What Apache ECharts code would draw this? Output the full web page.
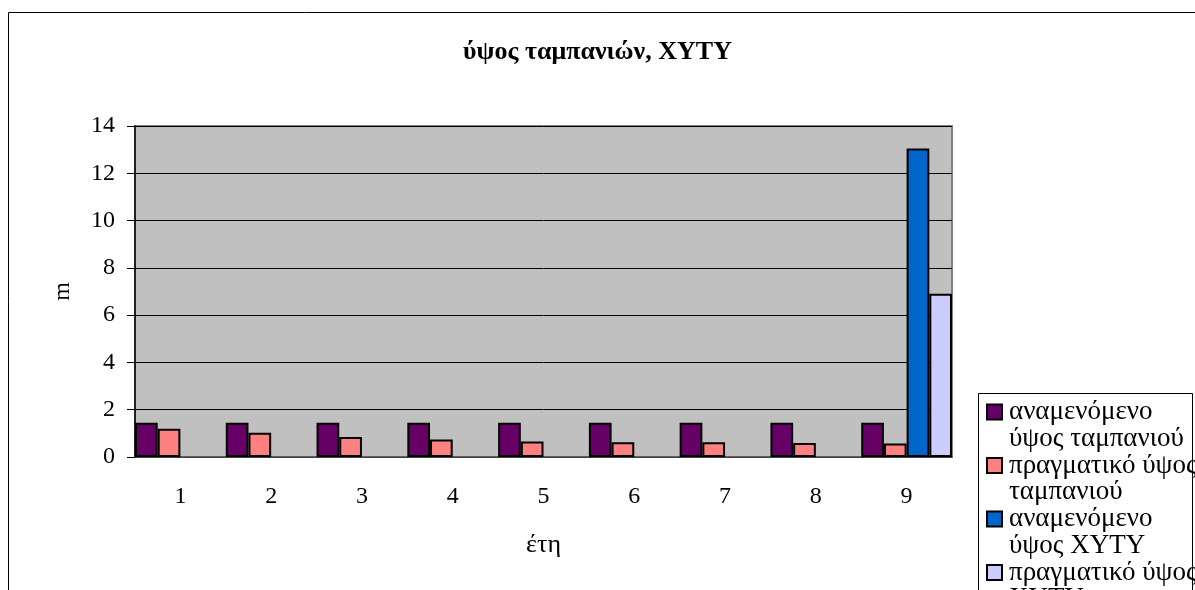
<!DOCTYPE html>
<html>
<head>
<meta charset="utf-8">
<script src="https://cdn.jsdelivr.net/npm/echarts@6/dist/echarts.min.js"></script>
<style>
    html, body { margin: 0; padding: 0; background: #fff; }
    #main { width: 1195px; height: 590px; }
</style>
</head>
<body>
<div id="main"></div>
<script>
// δεδομένα του διαγράμματος
var years = ['1', '2', '3', '4', '5', '6', '7', '8', '9'];
var expectedCell = [1.45, 1.45, 1.45, 1.45, 1.45, 1.45, 1.45, 1.45, 1.45];
var actualCell = [1.2, 1.03, 0.85, 0.74, 0.66, 0.62, 0.62, 0.59, 0.57];
var expectedLandfill = [null, null, null, null, null, null, null, null, 13.05];
var actualLandfill = [null, null, null, null, null, null, null, null, 6.9];
var seriesNames = ['αναμενόμενο ύψος ταμπανιού', 'πραγματικό ύψος ταμπανιού', 'αναμενόμενο ύψος ΧΥΤΥ', 'πραγματικό ύψος ΧΥΤΥ'];
// πού σπάει η γραμμή στο υπόμνημα (η κενή πρώτη γραμμή κρατά το τετράγωνο στην πρώτη γραμμή κειμένου)
var legendLines = {
    'αναμενόμενο ύψος ταμπανιού': ' \nαναμενόμενο\nύψος ταμπανιού',
    'πραγματικό ύψος ταμπανιού': ' \nπραγματικό ύψος\nταμπανιού',
    'αναμενόμενο ύψος ΧΥΤΥ': ' \nαναμενόμενο\nύψος ΧΥΤΥ',
    'πραγματικό ύψος ΧΥΤΥ': ' \nπραγματικό ύψος\nΧΥΤΥ'
};

(function () {
    var font = "'Liberation Serif', 'Times New Roman', serif";
    var myChart = echarts.init(document.getElementById('main'));

    function barSeries(name, data, color) {
        return {
            name: name,
            type: 'bar',
            data: data,
            barGap: 0,
            barCategoryGap: 0,
            itemStyle: {
                color: color,
                borderColor: '#000',
                borderWidth: 2
            }
        };
    }

    var option = {
        animation: false,
        backgroundColor: '#fff',
        textStyle: { fontFamily: font },
        title: {
            text: 'ύψος ταμπανιών, ΧΥΤΥ',
            left: 'center',
            top: 39,
            padding: 0,
            textStyle: { fontFamily: font, fontSize: 26, fontWeight: 'bold', color: '#000' }
        },
        //περίγραμμα γραφήματος και υπομνήματος
        graphic: [{
            type: 'rect',
            z: -1,
            shape: { x: 8.5, y: 12.5, width: 1400, height: 800 },
            style: { fill: 'none', stroke: '#000', lineWidth: 1 }
        }, {
            type: 'rect',
            z: 1,
            shape: { x: 978.5, y: 393.5, width: 214, height: 400 },
            style: { fill: '#fff', stroke: '#000', lineWidth: 1 }
        }],
        legend: {
            orient: 'vertical',
            left: 986,
            top: 372,
            height: 500,
            padding: 0,
            z: 5,
            itemGap: -26.5,
            itemWidth: 15,
            itemHeight: 15,
            icon: 'rect',
            data: seriesNames,
            formatter: function (name) {
                return legendLines[name] || name;
            },
            textStyle: {
                fontFamily: font,
                fontSize: 27,
                lineHeight: 26.5,
                color: '#000',
                padding: [0, 0, 0, 2]
            }
        },
        grid: {
            left: 135,
            right: 243,
            top: 126,
            bottom: 133,
            show: true,
            backgroundColor: '#c0c0c0',
            borderColor: '#808080',
            borderWidth: 2
        },
        xAxis: {
            type: 'category',
            data: years,
            name: 'έτη',
            nameLocation: 'middle',
            nameGap: 75,
            nameTextStyle: { fontFamily: font, fontSize: 26, color: '#000' },
            axisLine: { lineStyle: { color: '#555', width: 1.5 } },
            axisTick: { length: 8, lineStyle: { color: '#000' } },
            axisLabel: { fontFamily: font, fontSize: 24, color: '#000', margin: 28 },
            splitLine: { show: false }
        },
        yAxis: {
            type: 'value',
            min: 0,
            max: 14,
            interval: 2,
            name: 'm',
            nameLocation: 'middle',
            nameGap: 60,
            nameTextStyle: { fontFamily: font, fontSize: 24, color: '#000' },
            axisLine: { show: true, lineStyle: { color: '#000', width: 1.5 } },
            axisTick: { show: true, length: 8, lineStyle: { color: '#000' } },
            axisLabel: { fontFamily: font, fontSize: 24, color: '#000', margin: 20 },
            splitLine: { lineStyle: { color: '#000', width: 1 } }
        },
        series: [
            barSeries(seriesNames[0], expectedCell, '#660066'),
            barSeries(seriesNames[1], actualCell, '#ff8080'),
            barSeries(seriesNames[2], expectedLandfill, '#0066cc'),
            barSeries(seriesNames[3], actualLandfill, '#ccccff')
        ]
    };
    myChart.setOption(option);
})();
</script>
</body>
</html>
